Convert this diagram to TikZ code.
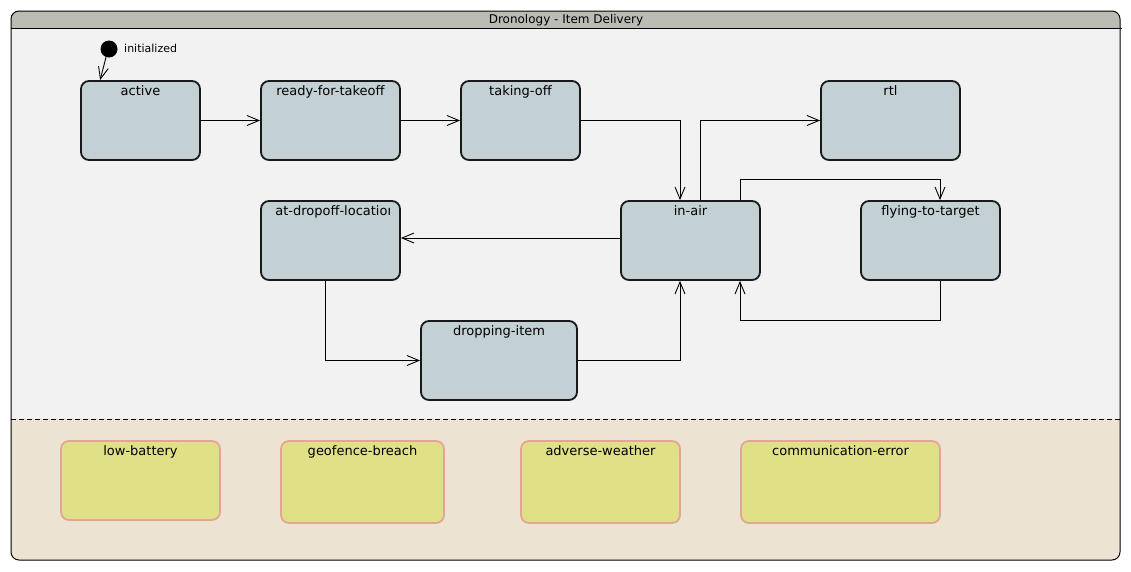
\documentclass[tikz,border=0pt]{standalone}
\usepackage{fontspec}
\setmainfont{DejaVu Sans}
\usetikzlibrary{arrows.meta}

\definecolor{headgrey}{RGB}{187,189,181}
\definecolor{bodygrey}{RGB}{242,242,242}
\definecolor{alertbg}{RGB}{237,227,211}
\definecolor{statefill}{RGB}{195,208,212}
\definecolor{alertfill}{RGB}{224,224,135}
\definecolor{alertdraw}{RGB}{226,166,152}

\tikzset{
  state/.style={draw=black!90, line width=1.8pt, rounded corners=8pt, fill=statefill,
    minimum height=79pt, inner sep=0pt},
  alertstate/.style={draw=alertdraw, line width=1.8pt, rounded corners=8pt, fill=alertfill,
    inner sep=0pt},
  statelabel/.style={anchor=north, yshift=-5pt, inner sep=0pt},
  arr/.style={line width=0.9pt, -{Straight Barb[length=12pt,width=10pt]}}
}

\begin{document}
\begin{tikzpicture}[x=1pt, y=-1pt, every node/.style={font=\fontsize{13}{15}\selectfont}]
  \useasboundingbox (0,0) rectangle (1131,571);

  % frame of the composite state
  \fill[bodygrey, rounded corners=8pt] (11,11) rectangle (1120,560);
  \begin{scope}
    \clip[rounded corners=8pt] (11,11) rectangle (1120,560);
    \fill[headgrey] (11,11) rectangle (1120,28);
    \fill[alertbg] (11,419) rectangle (1120,560);
  \end{scope}
  \draw[line width=1pt, rounded corners=8pt] (11,11) rectangle (1120,560);
  \draw[line width=1pt] (11,28) -- (1122,28);
  \draw[line width=0.9pt, dash pattern=on 5pt off 3pt] (11,419) -- (1120,419);
  \node[font=\fontsize{12}{14}\selectfont] (title) at (566,20.5) {Dronology - Item Delivery};

  % states
  \node[state, minimum width=119pt, label={[statelabel]north:active}] (active) at (140.5,120.5) {};
  \node[state, minimum width=139pt, label={[statelabel]north:ready-for-takeoff}] (ready) at (330.5,120.5) {};
  \node[state, minimum width=119pt, label={[statelabel]north:taking-off}] (takeoff) at (520.5,120.5) {};
  \node[state, minimum width=139pt, label={[statelabel]north:rtl}] (rtl) at (890.5,120.5) {};
  \node[state, minimum width=139pt] (dropoff) at (330.5,240.5) {};
  \node[state, minimum width=139pt, label={[statelabel]north:in-air}] (inair) at (690.5,240.5) {};
  \node[state, minimum width=139pt, label={[statelabel]north:flying-to-target}] (flying) at (930.5,240.5) {};
  \node[state, minimum width=156pt, label={[statelabel]north:dropping-item}] (dropping) at (499,360.5) {};

  % long name is cut off by the box
  \begin{scope}
    \clip (dropoff.north west) rectangle ([xshift=-11pt]dropoff.south east);
    \node[anchor=north west, inner sep=0pt] (droplab) at ([xshift=15pt, yshift=-5pt]dropoff.north west) {at-dropoff-location};
  \end{scope}

  % initial state
  \node[circle, fill=black, minimum size=17pt, inner sep=0pt] (init) at (109,49) {};
  \node[anchor=west, inner sep=0pt, font=\fontsize{11}{13}\selectfont] (initlab) at (124,48) {initialized};

  % transitions
  \draw[arr] (init.250) -- ([xshift=20pt]active.north west);
  \draw[arr] (active) -- (ready);
  \draw[arr] (ready) -- (takeoff);
  \draw[arr] (takeoff.east) -| ([xshift=-10.5pt]inair.north);
  \draw[arr] ([xshift=9.5pt]inair.north) |- (rtl.west);
  \draw[arr] ([xshift=49.5pt]inair.north) -- ++(0,-21) -| ([xshift=9.5pt]flying.north);
  \draw[arr] ([xshift=9.5pt]flying.south) -- ++(0,40) -| ([xshift=49.5pt]inair.south);
  \draw[arr] ([yshift=2.5pt]inair.west) -- ([yshift=2.5pt]dropoff.east);
  \draw[arr] ([xshift=-5.5pt]dropoff.south) |- (dropping.west);
  \draw[arr] (dropping.east) -| ([xshift=-10.5pt]inair.south);

  % error states
  \foreach \nm/\cx/\w/\h/\lab in {
    lowbat/140.5/159/79/low-battery,
    geofence/362.5/163/82/geofence-breach,
    weather/600.5/159/82/adverse-weather,
    commerr/840.5/199/82/communication-error} {
    \node[alertstate, minimum width=\w pt, minimum height=\h pt,
      label={[statelabel]north:\lab}] (\nm) at (\cx,441+\h/2) {};
  }
\end{tikzpicture}
\end{document}
